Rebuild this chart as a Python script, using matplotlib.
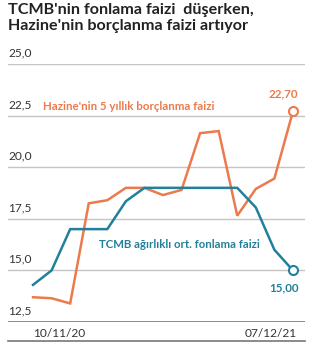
import numpy as np
import matplotlib.pyplot as plt
from matplotlib.lines import Line2D
from matplotlib.transforms import blended_transform_factory, offset_copy

# data
hazine = [13.7, 13.65, 13.4, 18.25, 18.4, 19.0, 19.0, 18.65, 18.9,
          21.65, 21.75, 17.65, 18.95, 19.45, 22.70]
tcmb = [14.3, 15.0, 17.0, 17.0, 17.0, 18.35, 19.0, 19.0, 19.0,
        19.0, 19.0, 19.0, 18.05, 16.0, 15.00]
y_ticks = [12.5, 15.0, 17.5, 20.0, 22.5, 25.0]
x_labels = ['10/11/20', '07/12/21']

orange = '#ec7a4c'
blue = '#23809b'
font = 'Lato'


def main():
    fig = plt.figure(figsize=(3.13, 3.42), dpi=100)
    ax = fig.add_axes([8 / 313, 1 - 322 / 342, 297 / 313, 258 / 342])
    x = np.arange(len(hazine))
    ax.set_xlim(-1.35, 14.65)
    ax.set_ylim(12.5, 25.0)
    for s in ax.spines.values():
        s.set_visible(False)
    ax.set_xticks([])
    ax.set_yticks([])

    # grid + y labels above lines
    trans = blended_transform_factory(ax.transAxes, ax.transData)
    for v in y_ticks:
        base = v == y_ticks[0]
        ax.axhline(v, color='#777777' if base else '#c4c4c4',
                   lw=1.2 if base else 1.0, zorder=1)
        ax.text(0, v, f'{v:.1f}'.replace('.', ','), transform=offset_copy(trans, fig=fig, y=4, units='points'),
                ha='left', va='bottom', fontsize=8.6, color='#333333', family=font)

    ax.plot(x, hazine, color=orange, lw=1.8, zorder=3, solid_joinstyle='miter')
    ax.plot(x, tcmb, color=blue, lw=1.8, zorder=3, solid_joinstyle='miter')
    ax.plot(x[-1], hazine[-1], 'o', ms=6.5, mfc='white', mec=orange, mew=1.5, zorder=4)
    ax.plot(x[-1], tcmb[-1], 'o', ms=6.5, mfc='white', mec=blue, mew=1.5, zorder=4)

    ax.text(x[-1] - 0.5, hazine[-1] + 0.6, f'{hazine[-1]:.2f}'.replace('.', ','),
            color=orange, fontsize=8.4, fontweight='bold', family=font, ha='center', va='bottom')
    ax.text(x[-1] - 0.5, tcmb[-1] - 0.6, f'{tcmb[-1]:.2f}'.replace('.', ','),
            color=blue, fontsize=8.4, fontweight='bold', family=font, ha='center', va='top')
    ax.text(0.55, 22.95, "Hazine'nin 5 yıllık borçlanma faizi", color=orange,
            fontsize=8.3, fontweight='bold', family=font, ha='left', va='center')
    ax.text(3.55, 16.25, 'TCMB ağırlıklı ort. fonlama faizi', color=blue,
            fontsize=8.2, fontweight='bold', family=font, ha='left', va='center')

    # x labels
    ax.text(x[0], 12.5, x_labels[0], transform=offset_copy(ax.transData, fig=fig, y=-4, units='points'),
            ha='left', va='top', fontsize=8.6, color='#333333', family=font)
    ax.text(x[-1] + 0.2, 12.5, x_labels[1], transform=offset_copy(ax.transData, fig=fig, y=-4, units='points'),
            ha='right', va='top', fontsize=8.6, color='#333333', family=font)
    fig.add_artist(Line2D([8 / 313, 305 / 313], [1 - 341 / 342] * 2, color='#777777', lw=1.2))

    fig.text(8 / 313, 1 - 3 / 342, "TCMB'nin fonlama faizi  düşerken,\nHazine'nin borçlanma faizi artıyor",
             ha='left', va='top', fontsize=11.6, fontweight='bold', color='#222222',
             family=font, linespacing=1.15)

    fig.savefig('out.png', dpi=100)


if __name__ == '__main__':
    main()
